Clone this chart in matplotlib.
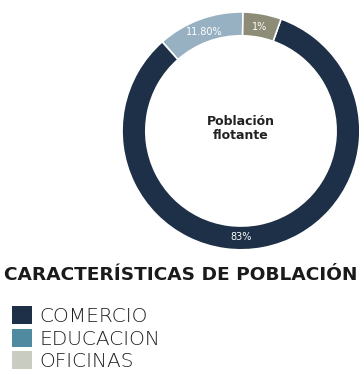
import matplotlib
matplotlib.use('Agg')
import matplotlib.pyplot as plt
from matplotlib.patches import Patch
import numpy as np

# data
categories = ['COMERCIO', 'EDUCACION', 'OFICINAS']
values = [83.0, 11.8, 5.2]
labels = ['83%', '11.80%', '1%']
ring_colors = ['#1e3047', '#97b1c2', '#8c8c77']
legend_colors = ['#1e3047', '#4f8aa0', '#c9ccc0']

fig = plt.figure(figsize=(3.64, 3.74), dpi=100)
ax = fig.add_axes([0.335, 0.332, 0.654, 0.636])

# draw counterclockwise starting just right of top: educacion, comercio, oficinas
order = [1, 0, 2]
wedges, _ = ax.pie([values[i] for i in order],
                   colors=[ring_colors[i] for i in order],
                   startangle=89, counterclock=True, radius=1.0,
                   wedgeprops=dict(width=0.2, edgecolor='white', linewidth=1.2))

# labels inside the ring
for w, i in zip(wedges, order):
    ang = np.deg2rad((w.theta1 + w.theta2) / 2)
    if i == 0:
        ang = np.deg2rad(270)
    r = 0.89
    ax.text(r * np.cos(ang), r * np.sin(ang), labels[i], color='white',
            ha='center', va='center', fontsize=7)

ax.text(0, 0.02, 'Población\nflotante', ha='center', va='center',
        fontsize=9, fontweight='bold', color='#222222', linespacing=1.1)
ax.set_xlim(-1, 1)
ax.set_ylim(-1, 1)
ax.set_aspect('equal')
ax.axis('off')

fig.text(0.012, 0.265, 'CARACTERÍSTICAS DE POBLACIÓN', fontsize=13.3,
         fontweight='bold', color='#1a1a1a', ha='left', va='center')

handles = [Patch(facecolor=c, edgecolor='none') for c in legend_colors]
fig.legend(handles, categories, loc='upper left', bbox_to_anchor=(0.033, 0.181),
           frameon=False, handlelength=1.0, handleheight=1.0,
           handletextpad=0.35, labelspacing=0.12, borderpad=0, borderaxespad=0,
           labelcolor='#1f1f1f', prop={'family': 'DejaVu Sans', 'weight': 'light', 'size': 14.5})

fig.savefig('out.png', dpi=100)
